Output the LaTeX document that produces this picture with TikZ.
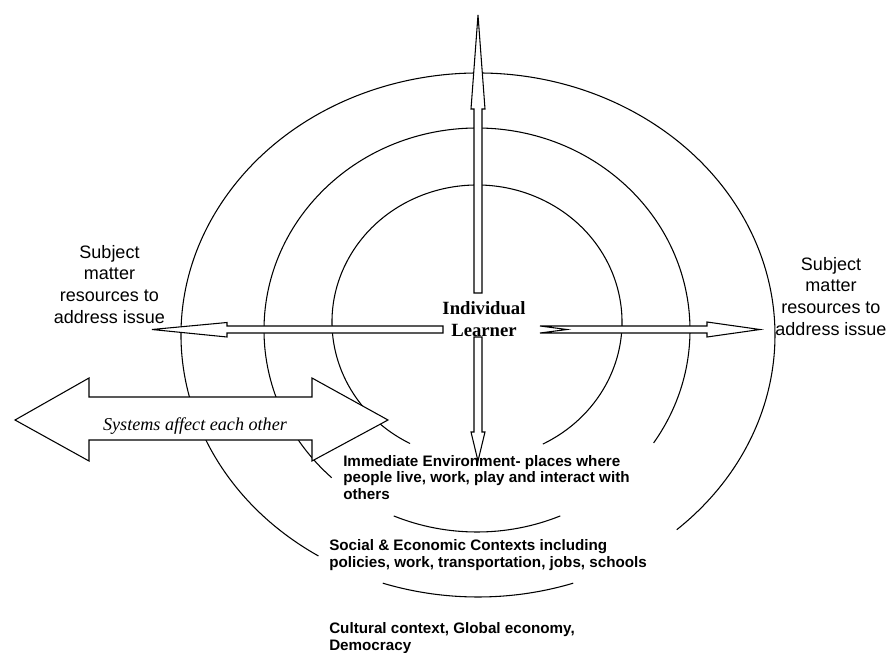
\documentclass[tikz,border=0pt]{standalone}
\usepackage{fontspec}
\setmainfont{Liberation Serif}
\setsansfont{Liberation Sans}
\begin{document}
\begin{tikzpicture}[x=0.75pt,y=-0.75pt,
  ring/.style={line width=0.8pt},
  blockarrow/.style={draw, fill=white, line width=0.8pt, line join=miter},
  sidelabel/.style={font=\sffamily\fontsize{13.5}{16.2}\selectfont, align=center, inner sep=0, anchor=base},
  ctxlabel/.style={font=\sffamily\bfseries\fontsize{11.4}{12.3}\selectfont, align=left, inner sep=0, anchor=base west},
]
\useasboundingbox[fill=white] (0,0) rectangle (890,653);

% rings
\coordinate (c1) at (477,322);
\coordinate (c2) at (477,330);
\coordinate (c3) at (478,335);
\draw[ring] ([shift={(117.5:145 and 137)}]c1) arc[start angle=117.5, end angle=423, x radius=145, y radius=137];
\draw[ring] ([shift={(133:213 and 202)}]c2) arc[start angle=133, end angle=394, x radius=213, y radius=202];
\draw[ring] ([shift={(67:213 and 202)}]c2) arc[start angle=67, end angle=113, x radius=213, y radius=202];
\draw[ring] ([shift={(122.5:297 and 262)}]c3) arc[start angle=122.5, end angle=408, x radius=297, y radius=262];
\draw[ring] ([shift={(71.3:297 and 262)}]c3) arc[start angle=71.3, end angle=108.7, x radius=297, y radius=262];

% arrows
\draw[blockarrow] (474,293) -- (474,109) -- (471,109) -- (478,15) -- (485,109) -- (482,109) -- (482,293) -- cycle;
\draw[blockarrow] (474,337) -- (474,432) -- (471,432) -- (478,461) -- (485,432) -- (482,432) -- (482,337) -- cycle;
\draw[blockarrow] (443,326) -- (227,326) -- (227,322.5) -- (152,329.5) -- (227,337) -- (227,333) -- (443,333) -- cycle;
\draw[blockarrow] (540,326) -- (707,326) -- (707,322) -- (760,329.5) -- (707,337) -- (707,333) -- (540,333) -- (567,329.5) -- cycle;
\draw[blockarrow] (15,420) -- (89,378) -- (89,397) -- (312,397) -- (312,378) -- (388,420) -- (312,461) -- (312,440) -- (89,440) -- (89,461) -- cycle;

% labels (anchor = baseline of the last line)
\node[sidelabel] (leftres) at (109.5,323) {Subject\\matter\\resources to\\address issue};
\node[sidelabel] (rightres) at (831,335) {Subject\\matter\\resources to\\address issue};
\node[font=\rmfamily\bfseries\fontsize{14}{16.3}\selectfont, align=center, inner sep=0, anchor=base] (learner) at (484,336.5) {Individual\\Learner};
\node[font=\rmfamily\itshape\fontsize{13.6}{16}\selectfont, inner sep=0, anchor=base] (sys) at (195,430) {Systems affect each other};
\node[ctxlabel] (imm) at (343,499) {Immediate Environment- places where\\people live, work, play and interact with\\others};
\node[ctxlabel] (soc) at (329,567) {Social \& Economic Contexts including\\policies, work, transportation, jobs, schools};
\node[ctxlabel] (cul) at (329,650) {Cultural context, Global economy,\\Democracy};
\end{tikzpicture}
\end{document}
